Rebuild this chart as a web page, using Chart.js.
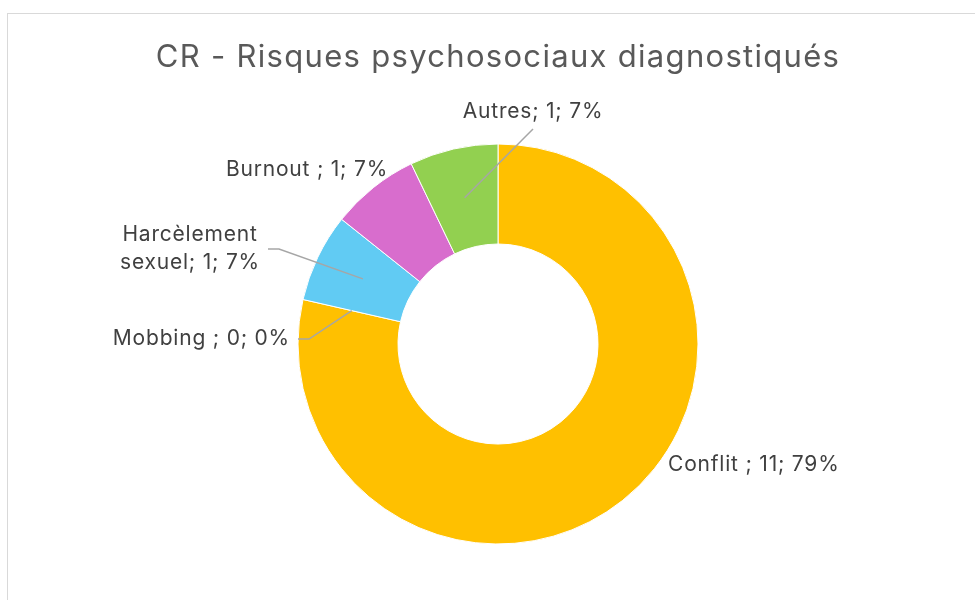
<!DOCTYPE html>
<html>
<head>
<meta charset="utf-8">
<script src="https://cdn.jsdelivr.net/npm/chart.js@4.4.1/dist/chart.umd.min.js"></script>
<style>
  html, body { margin: 0; padding: 0; background: #ffffff; }
  #wrap { width: 975px; height: 600px; position: relative; }
</style>
</head>
<body>
<div id="wrap"><canvas id="c" width="975" height="600"></canvas></div>
<script>
const chartTitle = 'CR - Risques psychosociaux diagnostiqués';
const categories = ['Conflit ', 'Mobbing ', 'Harcèlement sexuel', 'Burnout ', 'Autres'];
const values = [11, 0, 1, 1, 1];
const sliceColors = ['#FFC000', '#E97132', '#61CBF3', '#D86DCD', '#92D050'];

// label placement relative to the doughnut centre (in px for a 200px radius)
const labelPlacement = [
  { dx: 170, dy: 121, align: 'left', lines: 1, leader: 'none' },
  { dx: -208, dy: -5, align: 'right', lines: 1, leader: 'right' },
  { dx: -308, dy: -95, align: 'center', lines: 2, leader: 'right' },
  { dx: -191, dy: -174, align: 'center', lines: 1, leader: 'none' },
  { dx: 35, dy: -232, align: 'center', lines: 1, leader: 'bottom' }
];

const FONT_FAMILY = 'Inter, "Liberation Sans", sans-serif';
const LABEL_FONT = '21px ' + FONT_FAMILY;
const TITLE_FONT = '31px ' + FONT_FAMILY;
const LABEL_COLOR = '#404040';
const TITLE_COLOR = '#595959';
const LEADER_COLOR = '#A6A6A6';

const total = values.reduce((a, b) => a + b, 0);
function labelText(i) {
  const pct = Math.round(values[i] / total * 100);
  return categories[i] + '; ' + values[i] + '; ' + pct + '%';
}

const framePlugin = {
  id: 'frame',
  beforeDraw(chart) {
    const ctx = chart.ctx;
    ctx.save();
    ctx.fillStyle = '#ffffff';
    ctx.fillRect(0, 0, chart.width, chart.height);
    ctx.strokeStyle = '#D9D9D9';
    ctx.lineWidth = 1;
    ctx.strokeRect(7.5, 13.5, chart.width + 20, chart.height + 20);
    // title
    ctx.font = TITLE_FONT;
    ctx.letterSpacing = '1.3px';
    ctx.fillStyle = TITLE_COLOR;
    ctx.textAlign = 'center';
    ctx.textBaseline = 'alphabetic';
    const ca = chart.chartArea;
    ctx.fillText(chartTitle, (ca.left + ca.right) / 2, 67);
    ctx.restore();
  }
};

const labelPlugin = {
  id: 'sliceLabels',
  afterDatasetsDraw(chart) {
    const ctx = chart.ctx;
    const meta = chart.getDatasetMeta(0);
    ctx.save();
    ctx.font = LABEL_FONT;
    ctx.letterSpacing = '0.8px';
    ctx.fillStyle = LABEL_COLOR;
    ctx.textBaseline = 'middle';
    const lineH = 28;
    meta.data.forEach((arc, i) => {
      const p = labelPlacement[i];
      const k = arc.outerRadius / 200;
      const ax = arc.x + p.dx * k;
      const cy = arc.y + p.dy * k;
      const full = labelText(i);
      let lines = [full];
      if (p.lines === 2) {
        const sp = full.indexOf(' ');
        lines = [full.slice(0, sp), full.slice(sp + 1)];
      }
      const w = Math.max(...lines.map(l => ctx.measureText(l).width));
      const h = lines.length * lineH;
      let cx = ax;
      if (p.align === 'left') cx = ax + w / 2;
      if (p.align === 'right') cx = ax - w / 2;
      ctx.textAlign = 'center';
      lines.forEach((l, j) => {
        ctx.fillText(l, cx, cy - h / 2 + lineH / 2 + j * lineH);
      });
      if (p.leader !== 'none') {
        const mid = (arc.startAngle + arc.endAngle) / 2;
        const r = (arc.innerRadius + arc.outerRadius) / 2;
        const sx = arc.x + Math.cos(mid) * r;
        const sy = arc.y + Math.sin(mid) * r;
        ctx.strokeStyle = LEADER_COLOR;
        ctx.lineWidth = 1.5;
        ctx.beginPath();
        if (p.leader === 'right') {
          const ex = cx + w / 2 + 8;
          ctx.moveTo(ex, cy);
          ctx.lineTo(ex + 11, cy);
          ctx.lineTo(sx, sy);
        } else {
          ctx.moveTo(cx, cy + h / 2 + 3);
          ctx.lineTo(sx, sy);
        }
        ctx.stroke();
      }
    });
    ctx.restore();
  }
};

new Chart(document.getElementById('c'), {
  type: 'doughnut',
  data: {
    labels: categories,
    datasets: [{
      data: values,
      backgroundColor: sliceColors,
      borderColor: '#ffffff',
      borderWidth: 1,
      hoverOffset: 0
    }]
  },
  options: {
    responsive: false,
    animation: false,
    radius: 200,
    cutout: '50%',
    layout: { padding: { left: 21, right: 0, top: 88, bottom: 0 } },
    plugins: {
      legend: { display: false },
      tooltip: { enabled: false },
      title: { display: false }
    }
  },
  plugins: [framePlugin, labelPlugin]
});
</script>
</body>
</html>
